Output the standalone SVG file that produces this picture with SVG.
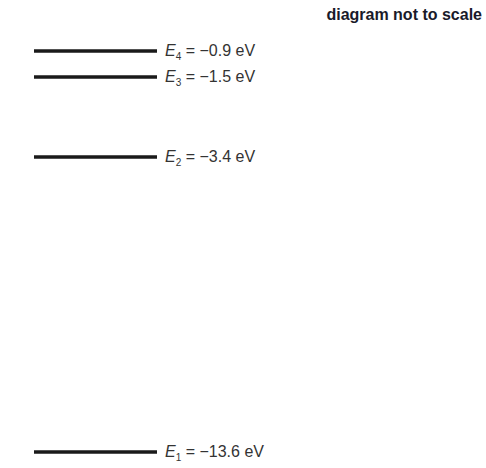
<svg xmlns="http://www.w3.org/2000/svg" width="486" height="468" viewBox="0 0 486 468">
<style>
.lv{stroke:#1a1a1a;stroke-width:3.5}
.t{font-family:"Liberation Sans",Arial,sans-serif;font-size:16px;fill:#333}
.s{font-size:10px}
.h{font-family:"Liberation Sans",Arial,sans-serif;font-size:16px;font-weight:bold;fill:#1a1a2a}
</style>
<rect width="486" height="468" fill="#fff"/>
<text class="h" x="482" y="20" text-anchor="end">diagram not to scale</text>
<g id="E4"><line class="lv" x1="34" y1="51" x2="157" y2="51"/><text class="t" x="165" y="56"><tspan font-style="italic">E</tspan><tspan class="s" dy="4">4</tspan><tspan dy="-4"> = −0.9 eV</tspan></text></g>
<g id="E3"><line class="lv" x1="34" y1="77" x2="157" y2="77"/><text class="t" x="165" y="82"><tspan font-style="italic">E</tspan><tspan class="s" dy="4">3</tspan><tspan dy="-4"> = −1.5 eV</tspan></text></g>
<g id="E2"><line class="lv" x1="34" y1="157" x2="157" y2="157"/><text class="t" x="165" y="162"><tspan font-style="italic">E</tspan><tspan class="s" dy="4">2</tspan><tspan dy="-4"> = −3.4 eV</tspan></text></g>
<g id="E1"><line class="lv" x1="34" y1="452" x2="157" y2="452"/><text class="t" x="165" y="457"><tspan font-style="italic">E</tspan><tspan class="s" dy="4">1</tspan><tspan dy="-4"> = −13.6 eV</tspan></text></g>
<g id="connectors"/>
</svg>
